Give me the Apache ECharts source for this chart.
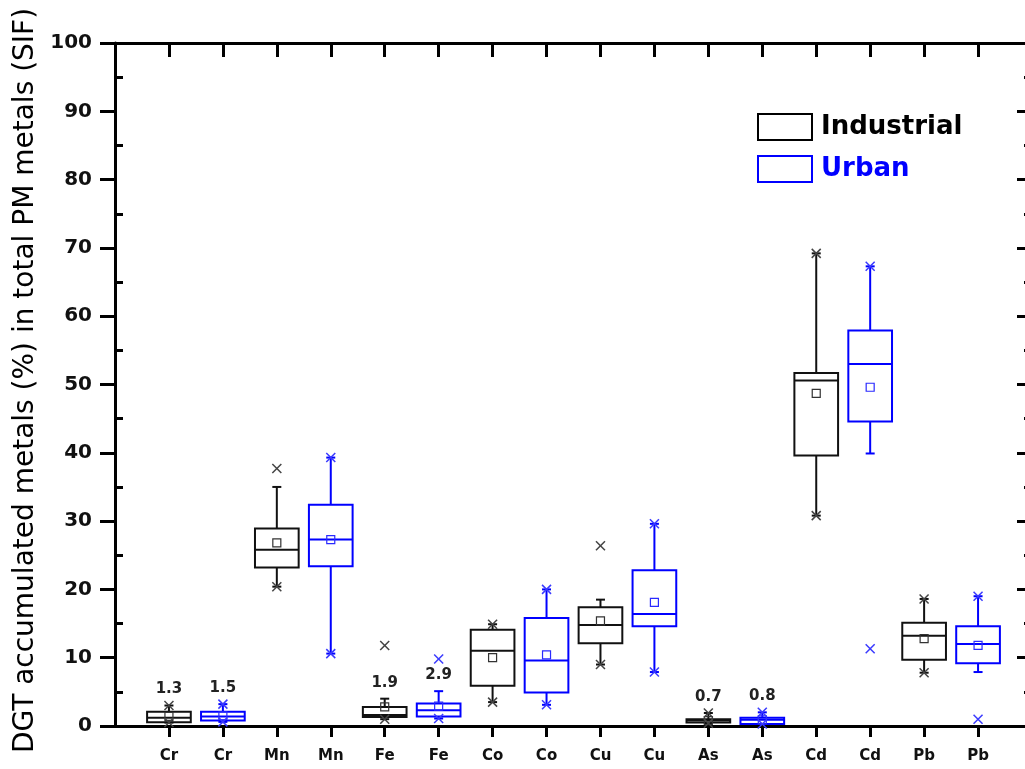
<!DOCTYPE html>
<html><head><meta charset="utf-8">
<script src="https://cdn.jsdelivr.net/npm/echarts@6/dist/echarts.min.js"></script>
<style>html,body{margin:0;padding:0;background:#fff}#c{width:1025px;height:769px}</style>
</head><body><div id="c"></div>
<script>
// ---- data ----
const metals = ['Cr','Mn','Fe','Co','Cu','As','Cd','Pb'];
const xTickLabels = ['Cr','Cr','Mn','Mn','Fe','Fe','Co','Co','Cu','Cu','As','As','Cd','Cd','Pb','Pb'];
const yMajorTicks = [0,10,20,30,40,50,60,70,80,90,100];
const yMinorTicks = [5,15,25,35,45,55,65,75,85,95];

const indQ1          = [0.55, 23.2, 1.3, 5.9, 12.1, 0.5, 39.6, 9.7];
const indMedian      = [1.2, 25.8, 1.6, 11.0, 14.8, 0.8, 50.6, 13.2];
const indQ3          = [2.1, 28.9, 2.8, 14.1, 17.4, 1.0, 51.7, 15.1];
const indMean        = [1.4, 26.8, 2.8, 10.0, 15.4, 0.8, 48.7, 12.8];
const indWhiskerLow  = [0.5, 20.4, 1.0, 3.5, 9.0, 0.4, 30.8, 7.8];
const indWhiskerHigh = [3.0, 35.0, 4.0, 14.9, 18.5, 1.9, 69.2, 18.6];
const indCrosses     = [[0.5,3.0],[20.4,37.7],[1.0,11.8],[3.5,14.9],[9.0,26.4],[0.4,1.9],[30.8,69.2],[7.8,18.6]];
const indLabels      = ['1.3','','1.9','','','0.7','',''];

const urbQ1          = [0.8, 23.4, 1.4, 4.9, 14.6, 0.3, 44.6, 9.2];
const urbMedian      = [1.4, 27.3, 2.3, 9.6, 16.4, 0.9, 53.0, 12.0];
const urbQ3          = [2.1, 32.4, 3.3, 15.8, 22.8, 1.2, 57.9, 14.6];
const urbMean        = [1.5, 27.3, 2.9, 10.4, 18.1, 0.9, 49.6, 11.8];
const urbWhiskerLow  = [0.6, 10.6, 1.1, 3.1, 7.9, 0.3, 39.9, 7.9];
const urbWhiskerHigh = [3.2, 39.3, 5.1, 20.0, 29.6, 2.0, 67.3, 19.0];
const urbCrosses     = [[0.6,3.2],[10.6,39.3],[1.1,9.8],[3.1,20.0],[7.9,29.6],[0.3,2.0],[11.3,67.3],[1.0,19.0]];
const urbLabels      = ['1.5','','2.9','','','0.8','',''];

// ---- build ----
function buildData(offset, lo, q1, med, q3, hi, mean) {
  return metals.map((m, i) => [2 * i + offset, lo[i], q1[i], med[i], q3[i], hi[i], mean[i]]);
}
const indData = buildData(1, indWhiskerLow, indQ1, indMedian, indQ3, indWhiskerHigh, indMean);
const urbData = buildData(2, urbWhiskerLow, urbQ1, urbMedian, urbQ3, urbWhiskerHigh, urbMean);

function makeRender(color, crossColor, meanColor, crosses, labels) {
  return function (params, api) {
    const x = api.value(0);
    const bw = api.size([1, 0])[0] * 0.81;
    const h = bw / 2;
    const pLo = api.coord([x, api.value(1)]);
    const pQ1 = api.coord([x, api.value(2)]);
    const pMed = api.coord([x, api.value(3)]);
    const pQ3 = api.coord([x, api.value(4)]);
    const pHi = api.coord([x, api.value(5)]);
    const pMean = api.coord([x, api.value(6)]);
    const cx = pQ1[0];
    const ls = { stroke: color, lineWidth: 2, fill: null };
    const ch = [];
    ch.push({ type: 'line', shape: { x1: cx, y1: pQ3[1], x2: cx, y2: pHi[1] }, style: ls });
    ch.push({ type: 'line', shape: { x1: cx, y1: pQ1[1], x2: cx, y2: pLo[1] }, style: ls });
    ch.push({ type: 'line', shape: { x1: cx - 4.5, y1: pHi[1], x2: cx + 4.5, y2: pHi[1] }, style: ls });
    ch.push({ type: 'line', shape: { x1: cx - 4.5, y1: pLo[1], x2: cx + 4.5, y2: pLo[1] }, style: ls });
    ch.push({ type: 'rect', shape: { x: cx - h, y: pQ3[1], width: bw, height: pQ1[1] - pQ3[1] }, style: { stroke: color, lineWidth: 2, fill: 'rgba(255,255,255,0)' } });
    ch.push({ type: 'line', shape: { x1: cx - h, y1: pMed[1], x2: cx + h, y2: pMed[1] }, style: ls });
    ch.push({ type: 'rect', shape: { x: cx - 4, y: pMean[1] - 4, width: 8, height: 8 }, style: { stroke: meanColor, lineWidth: 1.2, fill: 'rgba(255,255,255,0)' } });
    (crosses[params.dataIndex] || []).forEach(v => {
      const p = api.coord([x, v]);
      ch.push({ type: 'line', shape: { x1: p[0] - 4.5, y1: p[1] - 4.5, x2: p[0] + 4.5, y2: p[1] + 4.5 }, style: { stroke: crossColor, lineWidth: 1.5 } });
      ch.push({ type: 'line', shape: { x1: p[0] - 4.5, y1: p[1] + 4.5, x2: p[0] + 4.5, y2: p[1] - 4.5 }, style: { stroke: crossColor, lineWidth: 1.5 } });
    });
    const lab = labels[params.dataIndex];
    if (lab) {
      ch.push({ type: 'text', style: { text: lab, x: cx, y: pHi[1] - 16, align: 'center', verticalAlign: 'middle', fill: '#222', font: 'bold 15px "DejaVu Sans"' } });
    }
    return { type: 'group', children: ch };
  };
}

const chart = echarts.init(document.getElementById('c'), null, { renderer: 'canvas' });
const black = '#000';
const catTicks = xTickLabels.map((t, i) => i + 1);
chart.setOption({
  animation: false,
  backgroundColor: '#fff',
  grid: { left: 115, width: 917, top: 43, height: 683, containLabel: false, outerBoundsMode: 'none' },
  legend: {
    orient: 'vertical', left: 757, top: 113, itemWidth: 54, itemHeight: 26, itemGap: 14, padding: 0,
    icon: 'rect', selectedMode: false,
    textStyle: { fontFamily: 'DejaVu Sans', fontWeight: 'bold', fontSize: 26, padding: [0, 0, 0, 4] },
    data: [
      { name: 'Industrial', itemStyle: { color: '#fff', borderColor: '#000', borderWidth: 2 }, textStyle: { color: '#000' } },
      { name: 'Urban', itemStyle: { color: '#fff', borderColor: '#0000ff', borderWidth: 2 }, textStyle: { color: '#0000ff' } }
    ]
  },
  xAxis: [
    {
      type: 'value', position: 'bottom', min: 0, max: 17, interval: 1,
      axisLine: { show: true, onZero: false, lineStyle: { color: black, width: 3 } },
      axisTick: { show: true, inside: false, length: 11, lineStyle: { color: black, width: 3 }, customValues: catTicks },
      axisLabel: { show: true, customValues: catTicks, margin: 23, formatter: v => xTickLabels[v - 1] || '', fontFamily: 'DejaVu Sans', fontWeight: 'bold', fontSize: 15, color: '#111' },
      splitLine: { show: false }
    },
    {
      type: 'value', position: 'top', min: 0, max: 17, interval: 1,
      axisLine: { show: true, onZero: false, lineStyle: { color: black, width: 3 } },
      axisTick: { show: true, inside: true, length: 14, lineStyle: { color: black, width: 3 }, customValues: catTicks },
      axisLabel: { show: false }, splitLine: { show: false }
    }
  ],
  yAxis: [
    {
      type: 'value', position: 'left', min: 0, max: 100, interval: 10,
      name: 'DGT accumulated metals (%) in total PM metals (SIF)', nameLocation: 'middle', nameGap: 70,
      nameTextStyle: { fontFamily: 'DejaVu Sans', fontSize: 28, color: '#000', padding: [0, 0, 0, 8] },
      axisLine: { show: true, onZero: false, lineStyle: { color: black, width: 3 } },
      axisTick: { show: true, inside: false, length: 15, lineStyle: { color: black, width: 3 }, customValues: yMajorTicks },
      axisLabel: { margin: 23, fontFamily: 'DejaVu Sans', fontWeight: 'bold', fontSize: 20, color: '#111' },
      splitLine: { show: false }
    },
    {
      type: 'value', position: 'left', min: 0, max: 100, interval: 10,
      axisLine: { show: false },
      axisTick: { show: true, inside: true, length: 8, lineStyle: { color: black, width: 3 }, customValues: yMinorTicks },
      axisLabel: { show: false }, splitLine: { show: false }
    },
    {
      type: 'value', position: 'right', min: 0, max: 100, interval: 10,
      axisLine: { show: true, onZero: false, lineStyle: { color: black, width: 3 } },
      axisTick: { show: true, inside: true, length: 15, lineStyle: { color: black, width: 3 } },
      minorTick: { show: true, splitNumber: 2, length: 8, lineStyle: { color: black, width: 3 } },
      axisLabel: { show: false }, splitLine: { show: false }
    }
  ],
  series: [
    { name: 'Industrial', type: 'custom', xAxisIndex: 0, yAxisIndex: 0, data: indData,
      itemStyle: { color: '#000' },
      renderItem: makeRender('#111', '#444', '#333', indCrosses, indLabels) },
    { name: 'Urban', type: 'custom', xAxisIndex: 0, yAxisIndex: 0, data: urbData,
      itemStyle: { color: '#0000ff' },
      renderItem: makeRender('#0000ff', '#3a3aff', '#2a2aff', urbCrosses, urbLabels) }
  ]
});
</script></body></html>
